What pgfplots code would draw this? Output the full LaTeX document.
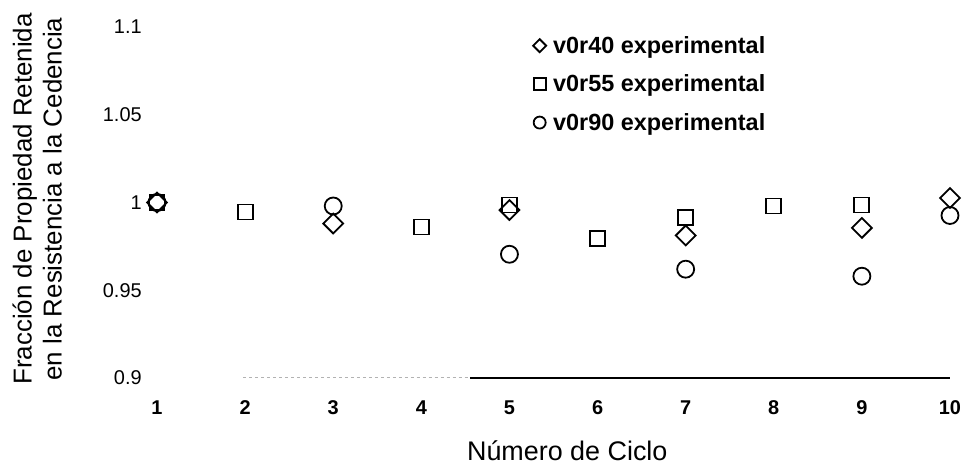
\documentclass[border=0pt]{standalone}
\usepackage{fontspec}
\setmainfont{Liberation Sans}
\usepackage{pgfplots}
\pgfplotsset{compat=1.18}
\begin{document}
\begin{tikzpicture}
\useasboundingbox (0,0) rectangle (964bp,468bp);
\begin{axis}[
  at={(148.2bp,90bp)}, anchor=south west,
  scale only axis, width=810.6bp, height=351bp,
  xmin=0.9, xmax=10.1, ymin=0.9, ymax=1.1,
  clip=false,
  axis line style={draw=none},
  major tick length=0pt,
  xtick={1,2,3,4,5,6,7,8,9,10},
  xticklabels={1,2,3,4,5,6,7,8,9,10},
  xticklabel style={font=\fontsize{20}{23}\selectfont\bfseries, yshift=-19bp},
  ytick={0.9,0.95,1,1.05,1.1},
  yticklabels={0.9,0.95,1,1.05,1.1},
  yticklabel style={font=\fontsize{20}{23}\selectfont, xshift=-3bp},
  xlabel={Número de Ciclo},
  xlabel style={font=\fontsize{27}{30}\selectfont, at={(axis description cs:0.517,-0.208)}, anchor=center},
  ylabel={Fracción de Propiedad Retenida\\en la Resistencia a la Cedencia},
  ylabel style={font=\fontsize{26}{30}\selectfont, align=center, at={(axis description cs:-0.137,0.51)}, anchor=center},
  legend cell align=left,
  legend style={at={(axis description cs:0.471,0.985)}, anchor=north west, draw=none, fill=none,
    font=\fontsize{23.5}{27}\selectfont\bfseries, row sep=16bp,
    /tikz/every odd column/.append style={column sep=5bp}},
]
\addplot[only marks, mark=square, mark size=7bp, mark options={rotate=45, line width=1.8bp, fill=none}, legend image post style={mark size=4.6bp}]
  coordinates {(1,1.0) (3,0.988) (5,0.9957) (7,0.9812) (9,0.9855) (10,1.0026)};
\addlegendentry{v0r40 experimental}
\addplot[only marks, mark=square, mark size=7.5bp, mark options={line width=1.8bp, fill=none}, legend image post style={mark size=6bp}]
  coordinates {(1,1.0) (2,0.9946) (4,0.986) (5,0.9986) (6,0.9795) (7,0.9915) (8,0.998) (9,0.9986)};
\addlegendentry{v0r55 experimental}
\addplot[only marks, mark=o, mark size=8.5bp, mark options={line width=1.8bp, fill=none}, legend image post style={mark size=6bp}]
  coordinates {(1,1.0) (3,0.998) (5,0.9705) (7,0.962) (9,0.958) (10,0.9926)};
\addlegendentry{v0r90 experimental}
\draw[gray!60, dashed, line width=1bp] (axis cs:1.98,0.9) -- (axis cs:4.55,0.9);
\draw[black, line width=1.3bp] (axis cs:4.55,0.9) -- (axis cs:10,0.9);
\end{axis}
\end{tikzpicture}
\end{document}
